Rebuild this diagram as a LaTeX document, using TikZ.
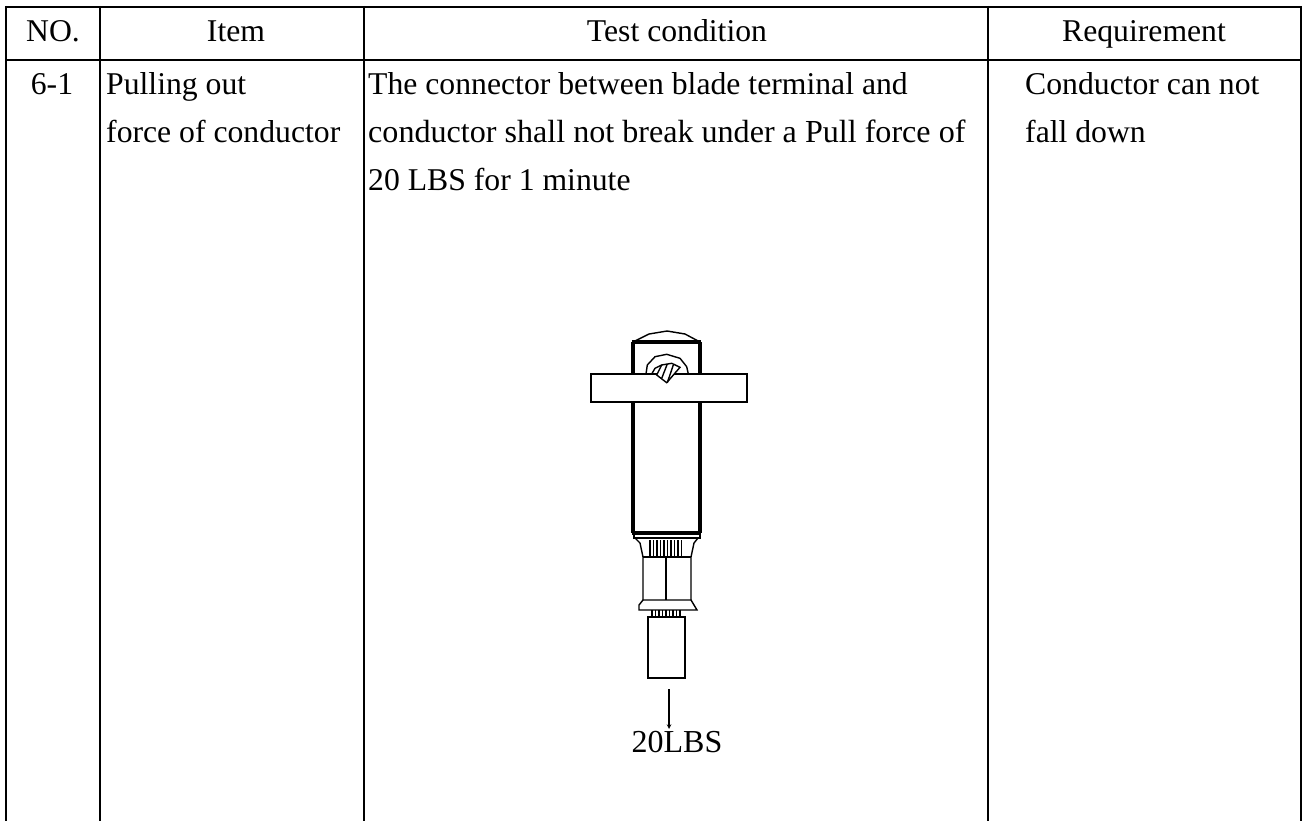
\documentclass[tikz,border=0pt]{standalone}
\usepackage{fontspec}
\setmainfont{Liberation Serif}
\usepackage{tikz}
\usetikzlibrary{positioning}

\begin{document}
\begin{tikzpicture}[x=1pt, y=-1pt, rule/.style={line width=2.4pt}, part/.style={line width=1.4pt}, heavy/.style={line width=3.2pt}, head cell/.style={anchor=base, inner sep=0pt, font=\fontsize{31.7}{36}\selectfont}, text cell/.style={anchor=base west, inner sep=0pt, font=\fontsize{31.7}{36}\selectfont}]

        \useasboundingbox (0,0) rectangle (1303,821);

        % Table
        \draw[rule] (5,7) -- (1302,7);
        \draw[rule] (5,60) -- (1302,60);
        \foreach \x in {6, 100, 364, 988, 1301} {
            \draw[rule] (\x,6) -- (\x,821);
        }

        \node[head cell] (no) at (53,42) {NO.};
        \node[head cell] (item) at (236,42) {Item};
        \node[head cell] (test) at (677,42) {Test condition};
        \node[head cell] (req) at (1144,42) {Requirement};

        \node[head cell] (num) at (52,95) {6-1};
        \node[text cell] (item1) at (106,95) {Pulling out};
        \node[text cell] (item2) at (106,143) {force of conductor};
        \node[text cell] (cond1) at (368,95) {The connector between blade terminal and};
        \node[text cell, font=\fontsize{32.1}{36}\selectfont] (cond2) at (368,143) {conductor shall not break under a Pull force of};
        \node[text cell] (cond3) at (368,190) {20 LBS for 1 minute};
        \node[text cell] (req1) at (1025,95) {Conductor can not};
        \node[text cell] (req2) at (1025,143) {fall down};

        % Terminal
        \draw[part] (633,342) -- (649,334) -- (667,331) -- (685,334) -- (700,342);
        \draw[heavy] (632,342) -- (701,342);
        \draw[heavy] (633,342) -- (633,374);
        \draw[heavy] (700,342) -- (700,374);
        \draw[heavy] (633,402) -- (633,533);
        \draw[heavy] (700,402) -- (700,533);
        \draw[part] (591,374) rectangle (747,402);
        \draw[part] (646,374) -- (647.3,365) -- (655,356.7) -- (666.7,354.3) -- (680,358.3) -- (686.7,366.7) -- (688.3,374);
        \draw[part] (651.7,374) -- (655,368.3) -- (661.7,365);
        \draw[part, fill=white] (656.7,375) -- (666.7,382.7) -- (680,367.3) -- (671.7,363.3) -- (661.7,365) -- cycle;
        \draw[part] (661.7,378.3) -- (667.3,364);
        \draw[part] (667.3,382.7) -- (673.3,365);

        % Crimp
        \draw[heavy] (632,533) -- (701,533);
        \draw[part] (634,533) -- (634,538) -- (700,538) -- (700,533);
        \draw[part] (635,538) -- (640,543) -- (643,557) -- (643,600);
        \draw[part] (698,538) -- (694,543) -- (691,557) -- (691,600);
        \draw[part] (643,557) -- (691,557);
        \draw[part] (666,557) -- (666,600);
        \foreach \x in {650, 653.5, ..., 684} {
            \draw[line width=1.7pt] (\x,540) -- (\x,557);
        }
        \draw[part] (643,600) -- (691,600) -- (697,610) -- (639,610) -- (639,605) -- cycle;
        \foreach \x in {652, 655.5, ..., 682} {
            \draw[line width=1.6pt] (\x,610) -- (\x,617);
        }
        \draw[part] (648,617) rectangle (685,678);

        % Pull force
        \coordinate (pull) at (669,689);
        \coordinate (pull end) at (669,729);
        \node[inner sep=0pt, font=\fontsize{32}{32}\selectfont] (load) at (677,742) {20LBS};
        \draw[->, >=stealth, line width=1.1pt] (pull) -- (pull end);

\end{tikzpicture}
\end{document}
